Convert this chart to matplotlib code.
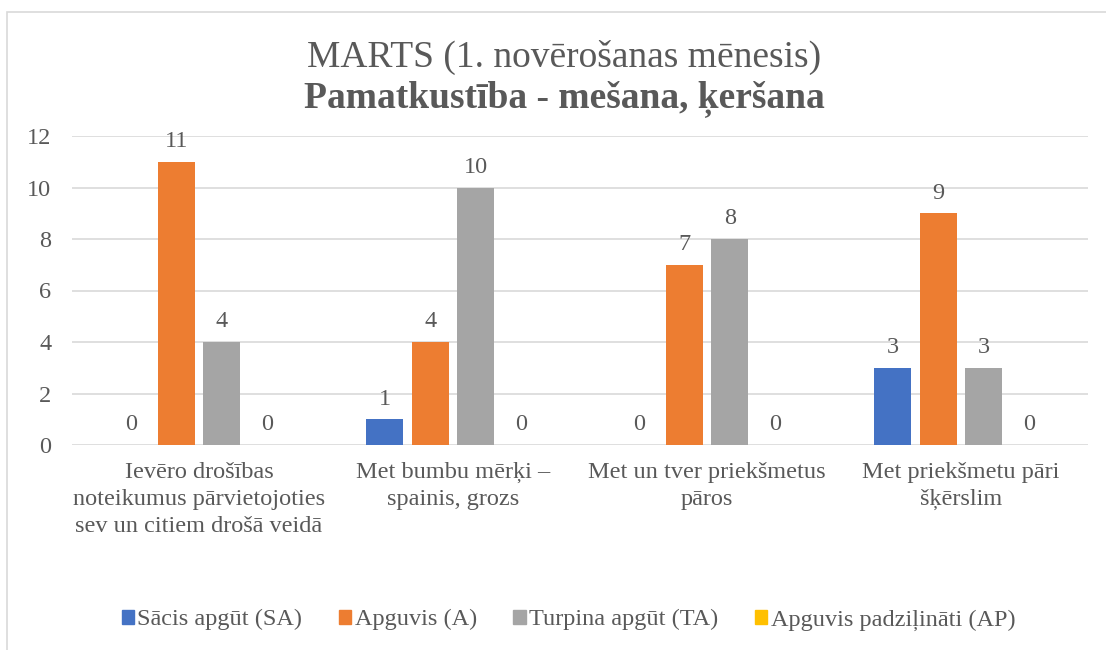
import numpy as np
import matplotlib
matplotlib.use("Agg")
import matplotlib.pyplot as plt
from matplotlib.patches import Patch, Rectangle

plt.rcParams['font.family'] = ['Liberation Serif', 'DejaVu Serif']

# data
categories = ["Ievēro drošības\nnoteikumus pārvietojoties\nsev un citiem drošā veidā",
              "Met bumbu mērķi –\nspainis, grozs",
              "Met un tver priekšmetus\npāros",
              "Met priekšmetu pāri\nšķērslim"]
series_names = ["Sācis apgūt (SA)", "Apguvis (A)", "Turpina apgūt (TA)", "Apguvis padziļināti (AP)"]
sa = [0, 1, 0, 3]
a = [11, 4, 7, 9]
ta = [4, 10, 8, 3]
ap = [0, 0, 0, 0]
colors = ["#4472C4", "#ED7D31", "#A5A5A5", "#FFC000"]
txt = "#595959"
fs = 17.5

fig = plt.figure(figsize=(11.06, 6.5), dpi=100)
ax = fig.add_axes([72/1106, 1-445/650, 1016/1106, 309/650])

x = np.arange(len(categories))
step = 0.179
width = 0.146
for i, (vals, c) in enumerate(zip([sa, a, ta, ap], colors)):
    pos = x + (i - 1.5)*step
    ax.bar(pos, vals, width, color=c, zorder=3)
    for p, v in zip(pos, vals):
        ax.annotate(str(v), (p, v), xytext=(0, 7), textcoords="offset points",
                    ha="center", va="bottom", fontsize=fs, color=txt)

ax.set_xlim(-0.5, len(categories) - 0.5)
ax.set_ylim(0, 12)
ax.set_yticks(range(0, 13, 2))
ax.set_xticks(x)
ax.set_xticklabels(categories, fontsize=fs, color=txt, linespacing=1.37)
ax.tick_params(axis="y", labelsize=fs, labelcolor=txt, length=0, pad=15)
ax.tick_params(axis="x", length=0, pad=12)
ax.yaxis.grid(True, color="#D9D9D9", linewidth=1.2, zorder=0)
for s in ax.spines.values():
    s.set_visible(False)

fig.text(0.51, 1-57/650, "MARTS (1. novērošanas mēnesis)", ha="center", va="center",
         fontsize=27, color=txt)
fig.text(0.51, 1-99/650, "Pamatkustība - mešana, ķeršana", ha="center", va="center",
         fontsize=27, color=txt, fontweight="bold")

handles = [Patch(color=c, label=n) for c, n in zip(colors, series_names)]
fig.legend(handles=handles, loc="center", bbox_to_anchor=(0.514, 1-620/650), ncol=4,
           frameon=False, prop={"family": "Liberation Serif", "size": fs}, labelcolor=txt,
           handlelength=0.5, handleheight=0.5, handletextpad=0.15, columnspacing=1.5)

# chart frame
fig.patches.append(Rectangle((7/1106, -0.1), 1.2, 0.1 + 1-12/650, transform=fig.transFigure,
                             fill=False, edgecolor="#D9D9D9", linewidth=1.2))

fig.savefig("out.png", dpi=100)
